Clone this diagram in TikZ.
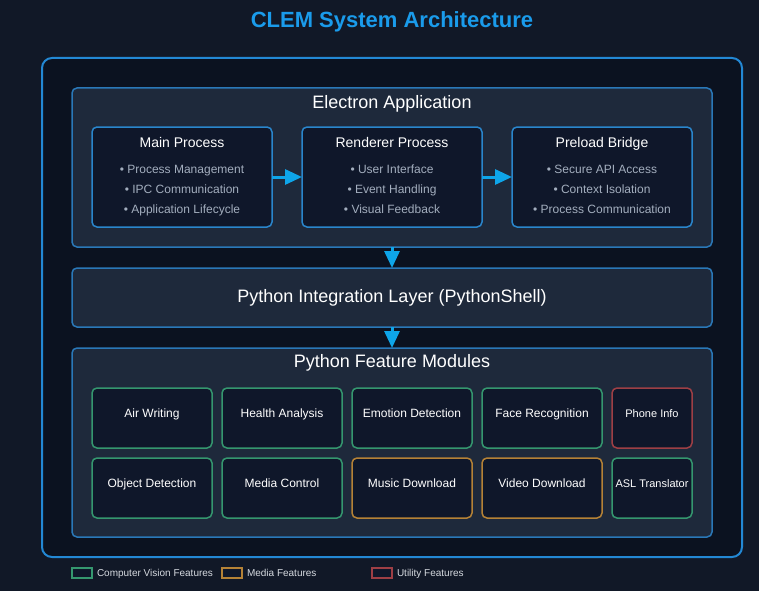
\documentclass[tikz,border=0pt]{standalone}
\usepackage{fontspec}
\setmainfont{Liberation Sans}
\usetikzlibrary{chains,positioning,arrows.meta}

\definecolor{pagebg}{HTML}{111827}
\definecolor{framefill}{HTML}{0B1220}
\definecolor{frameline}{HTML}{2388D4}
\definecolor{panelfill}{HTML}{1E293B}
\definecolor{panelline}{HTML}{2A78B8}
\definecolor{procfill}{HTML}{0F172A}
\definecolor{procline}{HTML}{2A86CC}
\definecolor{arrowblue}{HTML}{0EA5E9}
\definecolor{titleblue}{HTML}{1A9BEB}
\definecolor{bullet}{HTML}{A3AEBE}
\definecolor{cvgreen}{HTML}{35976F}
\definecolor{mediaorange}{HTML}{B58236}
\definecolor{utilred}{HTML}{9E3F45}
\definecolor{legendtext}{HTML}{D6DAE0}

\begin{document}
\begin{tikzpicture}[
    x=1pt,y=-1pt,
    every node/.style={outer sep=0pt},
    frame/.style={
      draw=frameline,
      fill=framefill,
      line width=2pt,
      rounded corners=10pt,
      minimum width=700pt,
      minimum height=499pt
    },
    layer/.style={
      draw=panelline,
      fill=panelfill,
      line width=1.5pt,
      rounded corners=5pt,
      minimum width=640pt,
      inner sep=0pt,
      text=white,
      font=\fontsize{18}{22}\selectfont
    },
    head/.style={
      anchor=base,
      text=white,
      font=\fontsize{18}{22}\selectfont
    },
    proc/.style={
      draw=procline,
      fill=procfill,
      line width=1.5pt,
      rounded corners=5pt,
      minimum width=180pt,
      minimum height=100pt,
      inner sep=0pt,
      align=center,
      text=bullet,
      font=\fontsize{12}{20}\selectfont,
      on chain,
      join=by flow
    },
    mod/.style={
      fill=procfill,
      line width=1.5pt,
      rounded corners=5pt,
      minimum width=120pt,
      minimum height=60pt,
      inner sep=0pt,
      text height=9pt,
      text depth=10.5pt,
      text=white,
      font=\fontsize{12}{14}\selectfont,
      on chain
    },
    cv/.style={mod,draw=cvgreen},
    media/.style={mod,draw=mediaorange},
    util/.style={mod,draw=utilred},
    small/.style={minimum width=80pt,font=\fontsize{11}{13}\selectfont},
    flow/.style={
      draw=arrowblue,
      line width=3pt,
      -{Triangle[length=17pt,width=15pt]}
    },
    swatch/.style={
      fill=procfill,
      line width=1.2pt,
      minimum width=20pt,
      minimum height=10pt,
      inner sep=0pt
    },
    legend/.style={
      text=legendtext,
      inner sep=0pt,
      text height=7.2pt,
      text depth=0pt,
      font=\fontsize{10}{12}\selectfont
    },
    node distance=30pt
    ]
    \useasboundingbox[fill=pagebg] (0,0) rectangle (759,591);

    \node[anchor=base,text=titleblue,font=\fontsize{22}{26}\selectfont\bfseries] (title) at (392,28)
      {CLEM System Architecture};

    \node[frame] (frame) at (392,307.5) {};

    % electron application
    \node[layer,minimum height=159pt,anchor=north west] (elec) at (72,88) {};
    \node[head] (electitle) at (392,108.5) {Electron Application};

    \begin{scope}[start chain=procs going right]
    \node[proc] at (182,177) (main)
      {{\color{white}\fontsize{14}{20}\selectfont\vphantom{Mg}Main Process}\\[6pt]
       • Process Management\\ • IPC Communication\\ • Application Lifecycle\vphantom{Mg}};
    \node[proc] (renderer)
      {{\color{white}\fontsize{14}{20}\selectfont\vphantom{Mg}Renderer Process}\\[6pt]
       • User Interface\\ • Event Handling\\ • Visual Feedback\vphantom{Mg}};
    \node[proc] (preload)
      {{\color{white}\fontsize{14}{20}\selectfont\vphantom{Mg}Preload Bridge}\\[6pt]
       • Secure API Access\\ • Context Isolation\\ • Process Communication\vphantom{Mg}};
    \end{scope}

    % python layers
    \node[layer,minimum height=59pt,below=21pt of elec] (pyshell)
      {Python Integration Layer (PythonShell)};
    \node[layer,minimum height=189pt,below=21pt of pyshell] (feat) {};
    \node[head] (feattitle) at (392,367.5) {Python Feature Modules};

    \draw[flow] (elec) -- (pyshell);
    \draw[flow] (pyshell) -- (feat);

    \begin{scope}[start chain=row1 going right,node distance=10pt]
    \node[cv] at (152,418) (airwriting) {Air Writing};
    \node[cv] (health) {Health Analysis};
    \node[cv] (emotion) {Emotion Detection};
    \node[cv] (face) {Face Recognition};
    \node[util,small] (phone) {Phone Info};
    \end{scope}
    \begin{scope}[start chain=row2 going right,node distance=10pt]
    \node[cv] at (152,488) (object) {Object Detection};
    \node[cv] (mediactl) {Media Control};
    \node[media] (music) {Music Download};
    \node[media] (video) {Video Download};
    \node[cv,small] (asl) {ASL Translator};
    \end{scope}

    % legend
    \node[swatch,draw=cvgreen] (lgcv) at (82,573) {};
    \node[legend,right=5pt of lgcv] (lgcvtext) {Computer Vision Features};
    \node[swatch,draw=mediaorange] (lgmedia) at (232,573) {};
    \node[legend,right=5pt of lgmedia] (lgmediatext) {Media Features};
    \node[swatch,draw=utilred] (lgutil) at (382,573) {};
    \node[legend,right=5pt of lgutil] (lgutiltext) {Utility Features};
\end{tikzpicture}
\end{document}
